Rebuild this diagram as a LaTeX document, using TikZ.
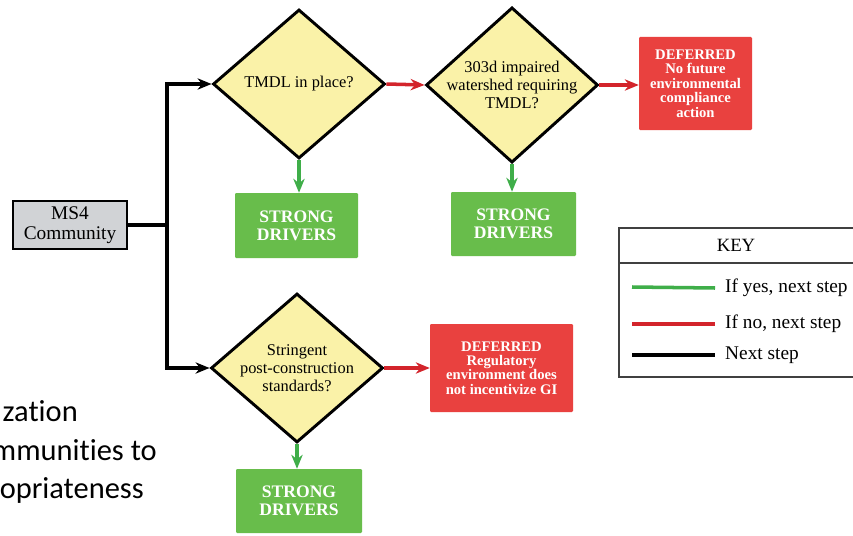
\documentclass[tikz,border=0pt]{standalone}
\usepackage{fontspec}
\setmainfont{Liberation Serif}
\newfontfamily\slidefont[Ligatures=CommonOff]{Carlito}
\usetikzlibrary{shapes.geometric,arrows.meta}

\definecolor{qyellow}{RGB}{250,242,168}
\definecolor{boxgreen}{RGB}{104,189,75}
\definecolor{boxred}{RGB}{233,65,63}
\definecolor{lineyes}{RGB}{63,174,73}
\definecolor{lineno}{RGB}{211,36,43}
\definecolor{ms4gray}{RGB}{209,211,214}

\tikzset{
  question/.style={diamond, draw=black, line width=2.5pt, fill=qyellow,
    minimum width=5.16cm, minimum height=4.47cm, inner sep=-5pt,
    align=center, font=\fontsize{14}{15.5}\selectfont},
  strongbox/.style={fill=boxgreen, text=white, rounded corners=1pt,
    align=center, font=\bfseries\fontsize{15}{15.5}\selectfont},
  deferbox/.style={fill=boxred, text=white, rounded corners=1pt,
    align=center, font=\bfseries\fontsize{12.5}{12.3}\selectfont},
  yesline/.style={draw=lineyes, line width=3pt, -{Stealth[length=0.42cm,width=0.34cm]}},
  noline/.style={draw=lineno, line width=3pt, -{Stealth[length=0.42cm,width=0.34cm]}},
  nextline/.style={draw=black, line width=3pt},
  keytext/.style={anchor=west, inner sep=0pt, font=\fontsize{16.5}{18}\selectfont},
  slidetext/.style={anchor=base east, inner sep=0pt, font=\slidefont\fontsize{26}{30}\selectfont}
}

\begin{document}
\begin{tikzpicture}[x=0.03cm, y=-0.03cm]
    \clip (0,0) rectangle (853,535);
    \fill[white] (0,0) rectangle (853,535);

    % Slide text behind the figure
    \node[slidetext] (slide1) at (78,421) {zation};
    \node[slidetext] (slide2) at (157,460) {mmunities to};
    \node[slidetext] (slide3) at (144,498) {opriateness};

    % Start
    \node[draw=black, line width=2.5pt, fill=ms4gray, minimum width=3.42cm, minimum height=1.44cm,
          align=center, font=\fontsize{16.5}{17.6}\selectfont] (ms4) at (70,225) {MS4\\Community};
    \coordinate (split) at (167,225);

    % Questions
    \node[question] (tmdl) at (299,84) {TMDL in place?};
    \node[question] (impaired) at (512,85) {303d impaired\\watershed requiring\\TMDL?};
    \node[question] (stringent) at (297,368) {Stringent\\post-construction\\standards?};

    % Outcomes
    \node[strongbox, minimum width=3.69cm, minimum height=1.95cm] (strong1) at (296.5,225.5) {STRONG\\DRIVERS};
    \node[strongbox, minimum width=3.75cm, minimum height=1.92cm] (strong2) at (513.5,224) {STRONG\\DRIVERS};
    \node[strongbox, minimum width=3.78cm, minimum height=1.92cm] (strong3) at (299,501) {STRONG\\DRIVERS};
    \node[deferbox, minimum width=3.39cm, minimum height=2.79cm] (defer1) at (695.5,83.5) {DEFERRED\\No future\\environmental\\compliance\\action};
    \node[deferbox, minimum width=4.29cm, minimum height=2.64cm] (defer2) at (501.5,368) {DEFERRED\\Regulatory\\environment does\\not incentivize GI};

    % Connections
    \draw[nextline] (ms4.east) -- (split);
    \draw[nextline, -{Stealth[length=0.42cm,width=0.34cm]}] (split) |- (tmdl.west);
    \draw[nextline, -{Stealth[length=0.42cm,width=0.34cm]}] (split) |- (stringent.west);
    \draw[noline] (tmdl.east) -- (impaired.west);
    \draw[noline] (impaired.east) -- (defer1.west |- impaired.east);
    \draw[noline] (stringent.east) -- (defer2.west |- stringent.east);
    \draw[yesline] (tmdl.south) -- (tmdl.south |- strong1.north);
    \draw[yesline] (impaired.south) -- (impaired.south |- strong2.north);
    \draw[yesline] (stringent.south) -- (stringent.south |- strong3.north);

    % Key
    \draw[line width=1.3pt, black!75] (619,228) rectangle (880,377);
    \draw[line width=1.3pt, black!75] (619,263) -- (880,263);
    \node[font=\fontsize{16}{18}\selectfont] (keytitle) at (736,245) {KEY};
    \node[keytext] (keyyes) at (725,288) {If yes, next step};
    \node[keytext] (keyno) at (725,324) {If no, next step};
    \node[keytext] (keynext) at (725,355) {Next step};
    \draw[draw=lineyes, line width=3pt] (632,287) -- ([xshift=-0.3cm]keyyes.west);
    \draw[draw=lineno, line width=3pt] (632,324) -- ([xshift=-0.3cm]keyno.west);
    \draw[draw=black, line width=3pt] (632,355) -- ([xshift=-0.3cm]keynext.west);
\end{tikzpicture}
\end{document}
